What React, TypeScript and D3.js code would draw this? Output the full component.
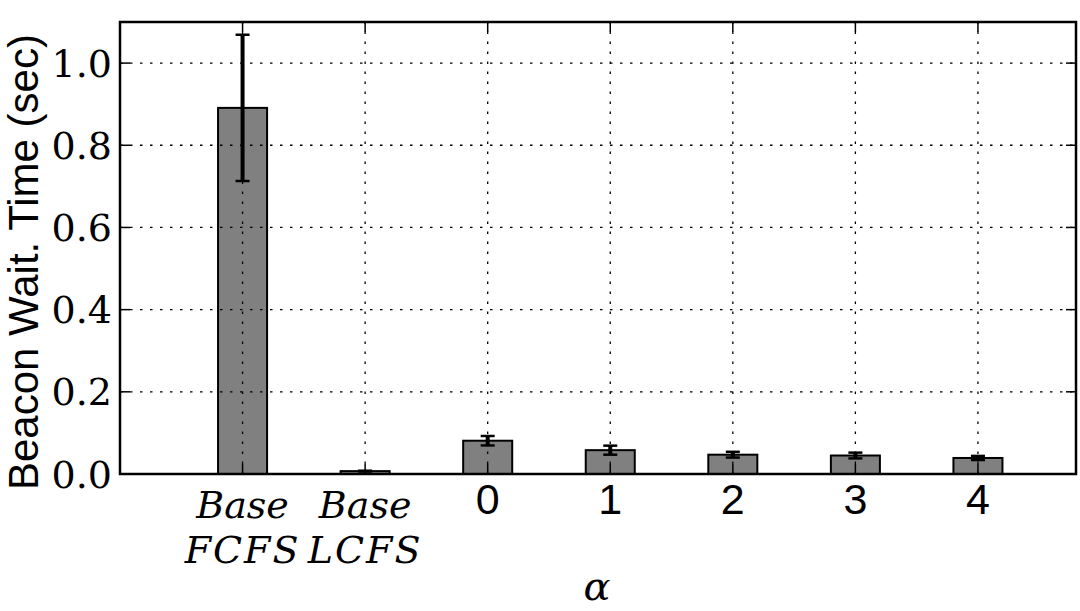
import * as d3 from 'd3';

const categories = ['Base|FCFS', 'Base|LCFS', '0', '1', '2', '3', '4'];
const means = [0.891, 0.007, 0.081, 0.058, 0.047, 0.045, 0.039];
const errors = [0.178, 0.001, 0.0115, 0.011, 0.007, 0.007, 0.005];
const yTicks = [0.0, 0.2, 0.4, 0.6, 0.8, 1.0];

const W = 1080;
const H = 611;
const margin = { left: 120, right: 4, top: 22, bottom: 137 };

export default function App() {
  const x = d3.scaleLinear().domain([-1, 6.8]).range([margin.left, W - margin.right]);
  const y = d3.scaleLinear().domain([0, 1.1]).range([H - margin.bottom, margin.top]);
  const barW = x(0.4) - x(0);
  const capW = 14;
  const x0 = margin.left;
  const x1 = W - margin.right;
  const y0 = H - margin.bottom;
  const y1 = margin.top;
  const serif = "'DejaVu Serif', 'Liberation Serif', 'Noto Serif', serif";
  const sans = "'Liberation Sans', Arial, Helvetica";

  return (
    <svg width={W} height={H} style={{ position: 'absolute', left: 0, top: 0, background: '#fff' }}>
      {/* bars */}
      {means.map((m, i) => (
        <rect
          key={i}
          x={x(i) - barW / 2}
          y={y(m)}
          width={barW}
          height={y(0) - y(m)}
          fill="#808080"
          stroke="#000"
          strokeWidth={2}
        />
      ))}
      {/* grid on top */}
      <g stroke="#000" strokeWidth={1.3} strokeDasharray="2.5,7.5">
        {yTicks.slice(1).map((t) => (
          <line key={t} x1={x0} x2={x1} y1={y(t)} y2={y(t)} />
        ))}
        {categories.map((c, i) => (
          <line key={c} x1={x(i)} x2={x(i)} y1={y0} y2={y1} />
        ))}
      </g>
      {/* error bars */}
      <g stroke="#000">
        {means.map((m, i) => (
          <g key={i}>
            <line x1={x(i)} x2={x(i)} y1={y(m - errors[i])} y2={y(m + errors[i])} strokeWidth={4} />
            <line x1={x(i) - capW / 2} x2={x(i) + capW / 2} y1={y(m + errors[i])} y2={y(m + errors[i])} strokeWidth={2.5} />
            <line x1={x(i) - capW / 2} x2={x(i) + capW / 2} y1={y(m - errors[i])} y2={y(m - errors[i])} strokeWidth={2.5} />
          </g>
        ))}
      </g>
      {/* ticks, inward on all sides */}
      <g stroke="#000" strokeWidth={1.5}>
        {yTicks.map((t) => (
          <g key={t}>
            <line x1={x0} x2={x0 + 10} y1={y(t)} y2={y(t)} />
            <line x1={x1} x2={x1 - 10} y1={y(t)} y2={y(t)} />
          </g>
        ))}
        {categories.map((c, i) => (
          <g key={c}>
            <line x1={x(i)} x2={x(i)} y1={y0} y2={y0 - 10} />
            <line x1={x(i)} x2={x(i)} y1={y1} y2={y1 + 10} />
          </g>
        ))}
      </g>
      {/* frame */}
      <rect x={x0} y={y1} width={x1 - x0} height={y0 - y1} fill="none" stroke="#000" strokeWidth={2.5} />
      {/* y tick labels */}
      {yTicks.map((t) => (
        <text
          key={t}
          x={112}
          y={y(t)}
          dy="0.36em"
          textAnchor="end"
          style={{ fontFamily: serif, fontSize: 38 }}
        >
          {t.toFixed(1)}
        </text>
      ))}
      {/* x tick labels */}
      {categories.map((c, i) => {
        if (c.includes('|')) {
          const [a, b] = c.split('|');
          return (
            <text key={c} textAnchor="middle" style={{ fontFamily: serif, fontStyle: 'italic', fontSize: 38 }}>
              <tspan x={x(i)} y={518}>{a}</tspan>
              <tspan x={x(i)} y={563} letterSpacing={2}>{b}</tspan>
            </text>
          );
        }
        return (
          <text key={c} x={x(i)} y={514} textAnchor="middle" style={{ fontFamily: sans, fontSize: 43 }}>
            {c}
          </text>
        );
      })}
      {/* axis labels */}
      <text x={597} y={600} textAnchor="middle" style={{ fontFamily: serif, fontStyle: 'italic', fontSize: 40 }}>
        α
      </text>
      <text
        transform="translate(38,490) rotate(-90)"
        textAnchor="start"
        style={{ fontFamily: sans, fontSize: 42 }}
      >
        Beacon Wait. Time (sec)
      </text>
    </svg>
  );
}
